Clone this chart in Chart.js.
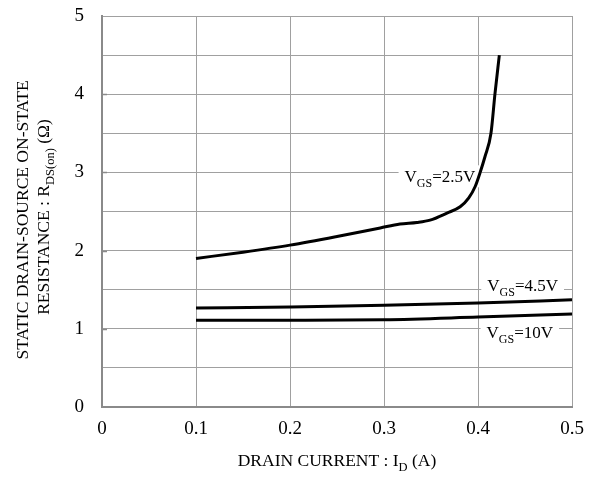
<!DOCTYPE html>
<html>
<head>
<meta charset="utf-8">
<script src="https://cdn.jsdelivr.net/npm/chart.js@4/dist/chart.umd.min.js"></script>
<style>
html,body{margin:0;padding:0;background:#fff;}
#wrap{width:595px;height:477px;position:relative;}
</style>
</head>
<body>
<div id="wrap"><canvas id="c" width="595" height="477"></canvas></div>
<script>
// ---- data ----
const xTickValues = [0, 0.1, 0.2, 0.3, 0.4, 0.5];
const xTickLabels = ["0", "0.1", "0.2", "0.3", "0.4", "0.5"];
const yTickLabels = ["0", "1", "2", "3", "4", "5"];

const id_25 = [0.1, 0.15, 0.2, 0.25, 0.296, 0.317, 0.335, 0.349, 0.367, 0.381, 0.39, 0.397, 0.402, 0.4074, 0.4138, 0.4181, 0.4227];
const r_25  = [1.90, 1.98, 2.07, 2.18, 2.29, 2.34, 2.36, 2.39, 2.48, 2.56, 2.67, 2.82, 2.99, 3.20, 3.50, 4.01, 4.50];

const id_45 = [0.1, 0.2, 0.3, 0.4, 0.5];
const r_45  = [1.265, 1.28, 1.30, 1.33, 1.37];

const id_10 = [0.1, 0.2, 0.3, 0.4, 0.5];
const r_10  = [1.11, 1.11, 1.115, 1.15, 1.19];

const seriesNames = [["V", "GS", "=2.5V"], ["V", "GS", "=4.5V"], ["V", "GS", "=10V"]];

const pts = (xs, ys) => xs.map((x, i) => ({x: x, y: ys[i]}));

const FONT = "'Liberation Serif', 'Times New Roman', serif";
const GRID = '#a0a0a0';
const BORDER = '#8a8a8a';

// draw text with subscript pieces: parts = [main, sub, main, sub, ...]
function drawRich(ctx, parts, x, y, size, subSize, align) {
  const widths = parts.map((p, i) => {
    ctx.font = (i % 2 ? subSize : size) + 'px ' + FONT;
    return ctx.measureText(p).width;
  });
  const total = widths.reduce((a, b) => a + b, 0);
  let cx = align === 'center' ? x - total / 2 : (align === 'right' ? x - total : x);
  const start = cx;
  parts.forEach((p, i) => {
    ctx.font = (i % 2 ? subSize : size) + 'px ' + FONT;
    ctx.fillText(p, cx, y + (i % 2 ? size * 0.28 : 0));
    cx += widths[i];
  });
  return {left: start, width: total};
}

const overlay = {
  id: 'overlay',
  beforeDatasetsDraw(chart) {
    const ctx = chart.ctx;
    const xs = chart.scales.x, ys = chart.scales.y;
    const ca = chart.chartArea;
    ctx.save();
    ctx.strokeStyle = BORDER;
    ctx.lineWidth = 1.5;
    for (let v = 1; v < 5; v++) {
      const py = Math.round(ys.getPixelForValue(v)) + 0.5;
      ctx.beginPath(); ctx.moveTo(ca.left, py); ctx.lineTo(ca.left + 5, py); ctx.stroke();
    }
    const labels = [
      {parts: seriesNames[0], x: 0.3595, y: 2.95},
      {parts: seriesNames[1], x: 0.4475, y: 1.555},
      {parts: seriesNames[2], x: 0.4445, y: 0.96}
    ];
    ctx.textBaseline = 'alphabetic';
    ctx.textAlign = 'left';
    labels.forEach(l => {
      const px = xs.getPixelForValue(l.x);
      const py = ys.getPixelForValue(l.y);
      let w = 0;
      l.parts.forEach((p, i) => { ctx.font = (i % 2 ? 12 : 17) + 'px ' + FONT; w += ctx.measureText(p).width; });
      ctx.fillStyle = '#fff';
      ctx.fillRect(px - w / 2 - 6, py - 11, w + 12, 22);
      ctx.fillStyle = '#000';
      drawRich(ctx, l.parts, px, py + 6, 17, 12, 'center');
    });
    ctx.restore();
  },
  afterDraw(chart) {
    const ctx = chart.ctx;
    const ca = chart.chartArea;
    ctx.save();
    ctx.fillStyle = '#000';
    ctx.textBaseline = 'alphabetic';
    drawRich(ctx, ["DRAIN CURRENT : I", "D", " (A)"], (ca.left + ca.right) / 2, 466, 17.5, 12.5, 'center');
    ctx.save();
    ctx.translate(28, 220);
    ctx.rotate(-Math.PI / 2);
    drawRich(ctx, ["STATIC DRAIN-SOURCE ON-STATE"], 0, 0, 17.5, 12.5, 'center');
    ctx.restore();
    ctx.save();
    ctx.translate(49, 217);
    ctx.rotate(-Math.PI / 2);
    drawRich(ctx, ["RESISTANCE : R", "DS(on)", " (\u03A9)"], 0, 0, 17.5, 12.5, 'center');
    ctx.restore();
    ctx.restore();
  }
};

const lineStyle = {borderColor: '#000', borderWidth: 3, pointRadius: 0, fill: false, cubicInterpolationMode: 'monotone', showLine: true};

new Chart(document.getElementById('c'), {
  type: 'scatter',
  data: {
    datasets: [
      Object.assign({label: 'VGS=2.5V', data: pts(id_25, r_25)}, lineStyle),
      Object.assign({label: 'VGS=4.5V', data: pts(id_45, r_45)}, lineStyle),
      Object.assign({label: 'VGS=10V', data: pts(id_10, r_10)}, lineStyle)
    ]
  },
  options: {
    responsive: false,
    animation: false,
    events: [],
    layout: {padding: {top: 16, right: 23, left: 0, bottom: 0}},
    plugins: {legend: {display: false}, tooltip: {enabled: false}, title: {display: false}},
    scales: {
      x: {
        type: 'linear', min: 0, max: 0.5,
        afterFit(s) { s.height = 70; s.paddingLeft = 0; s.paddingRight = 0; },
        afterBuildTicks(s) { s.ticks = xTickValues.map(v => ({value: v})); },
        ticks: {
          callback: (v, i) => xTickLabels[i],
          color: '#000', padding: 11, maxRotation: 0,
          font: {family: FONT, size: 19}
        },
        grid: {color: GRID, lineWidth: 1, drawTicks: false},
        border: {color: BORDER, width: 2}
      },
      y: {
        type: 'linear', min: 0, max: 5,
        afterFit(s) { s.width = 102; s.paddingTop = 0; s.paddingBottom = 0; },
        ticks: {
          stepSize: 0.5,
          callback: (v) => (Number.isInteger(v) ? yTickLabels[v] : ''),
          color: '#000', padding: 18,
          font: {family: FONT, size: 19}
        },
        grid: {color: GRID, lineWidth: 1, drawTicks: false},
        border: {color: BORDER, width: 2}
      }
    }
  },
  plugins: [overlay]
});
</script>
</body>
</html>
